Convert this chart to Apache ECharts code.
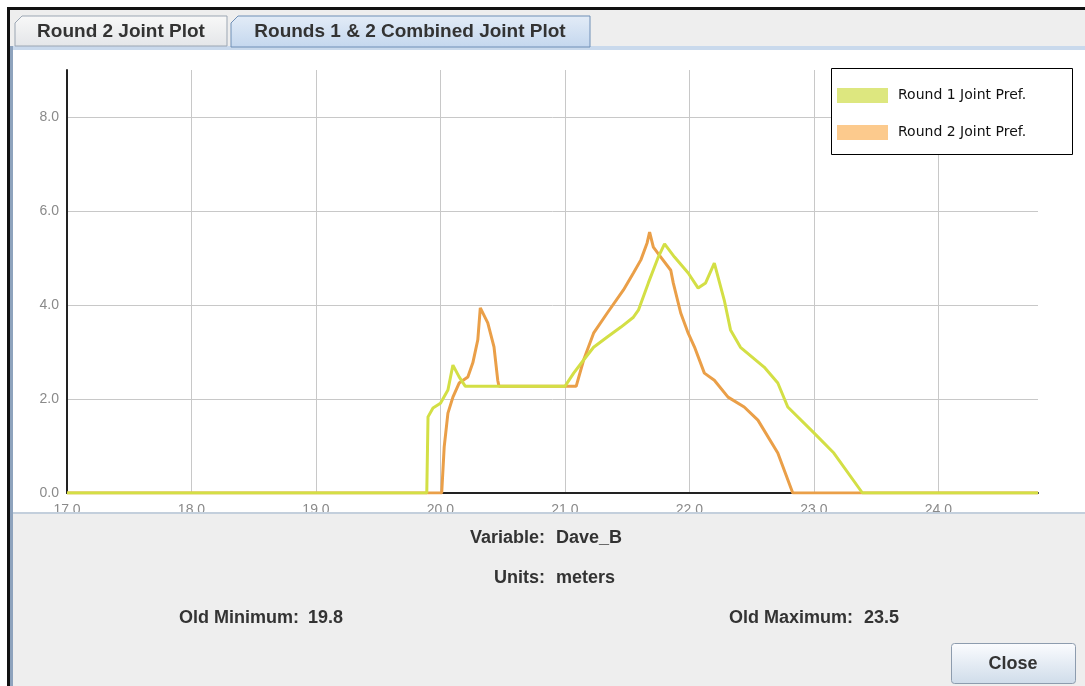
<!DOCTYPE html>
<html><head><meta charset="utf-8">
<script src="https://cdn.jsdelivr.net/npm/echarts@6/dist/echarts.min.js"></script>
<style>html,body{margin:0;padding:0;background:#fff}#c{width:1085px;height:686px}</style>
</head><body><div id="c"></div>
<script>
// ---- data ----
const seriesNames = ['Round 1 Joint Pref.', 'Round 2 Joint Pref.'];
const round1X = [17.0, 19.89, 19.90, 19.94, 20.00, 20.06, 20.10, 20.15, 20.20, 21.00, 21.07, 21.15, 21.23, 21.34, 21.45, 21.55, 21.59, 21.67, 21.75, 21.80, 21.88, 21.99, 22.07, 22.13, 22.20, 22.28, 22.33, 22.41, 22.60, 22.71, 22.79, 23.00, 23.16, 23.39, 24.8];
const round1Y = [0, 0, 1.62, 1.81, 1.91, 2.19, 2.72, 2.47, 2.27, 2.27, 2.55, 2.83, 3.10, 3.32, 3.53, 3.74, 3.89, 4.47, 5.02, 5.30, 5.02, 4.68, 4.36, 4.47, 4.89, 4.10, 3.47, 3.10, 2.68, 2.34, 1.83, 1.28, 0.85, 0, 0];
const round2X = [17.0, 20.01, 20.03, 20.06, 20.10, 20.15, 20.22, 20.26, 20.30, 20.32, 20.38, 20.43, 20.46, 20.47, 21.09, 21.15, 21.23, 21.34, 21.47, 21.55, 21.61, 21.66, 21.68, 21.71, 21.77, 21.85, 21.87, 21.93, 21.99, 22.04, 22.12, 22.20, 22.31, 22.44, 22.55, 22.71, 22.83, 24.8];
const round2Y = [0, 0, 0.98, 1.70, 2.04, 2.34, 2.47, 2.77, 3.26, 3.94, 3.62, 3.11, 2.40, 2.27, 2.27, 2.83, 3.40, 3.83, 4.32, 4.68, 4.96, 5.32, 5.55, 5.23, 5.02, 4.74, 4.47, 3.83, 3.40, 3.11, 2.55, 2.40, 2.04, 1.83, 1.55, 0.85, 0, 0];
const xTicks = [17, 18, 19, 20, 21, 22, 23, 24];
const yTicks = [0, 2, 4, 6, 8];
const tabLabels = ['Round 2 Joint Plot', 'Rounds 1 & 2 Combined Joint Plot'];
const infoLabels = ['Variable:', 'Units:', 'Old Minimum:', 'Old Maximum:'];
const infoValues = ['Dave_B', 'meters', '19.8', '23.5'];
const buttonLabel = 'Close';

const zip = (xs, ys) => xs.map((x, i) => [x, ys[i]]);

const chart = echarts.init(document.getElementById('c'), null, {renderer: 'canvas'});
const FONT = '"Liberation Sans", Arial, sans-serif';
const panelTop = 512;

const graphics = [
  // header gray
  {type: 'rect', shape: {x: 7, y: 7, width: 1078, height: 43}, style: {fill: '#eeeeee'}, z: 100, silent: true},
  // outer black border
  {type: 'rect', shape: {x: 7, y: 7, width: 1078, height: 3}, style: {fill: '#111'}, z: 101, silent: true},
  {type: 'rect', shape: {x: 7, y: 7, width: 3, height: 679}, style: {fill: '#111'}, z: 101, silent: true},
  // tab content border
  {type: 'rect', shape: {x: 10, y: 46, width: 1075, height: 4}, style: {fill: '#c9d9ec'}, z: 100, silent: true},
  {type: 'rect', shape: {x: 10, y: 46, width: 3, height: 640}, style: {fill: '#8ea3bd'}, z: 101, silent: true},
  // tab 1
  {type: 'polygon', shape: {points: [[15, 46], [15, 23], [22, 16], [227, 16], [227, 46]]},
   style: {fill: {type: 'linear', x: 0, y: 0, x2: 0, y2: 1, colorStops: [{offset: 0, color: '#f8f8f8'}, {offset: 1, color: '#e4e6e9'}]}, stroke: '#9ba6b3', lineWidth: 1}, z: 102, silent: true},
  {type: 'text', x: 121, y: 32, style: {text: tabLabels[0], font: 'bold 19px ' + FONT, fill: '#333', align: 'center', verticalAlign: 'middle'}, z: 103, silent: true},
  // tab 2 (selected)
  {type: 'polygon', shape: {points: [[231, 47], [231, 23], [238, 16], [590, 16], [590, 47]]},
   style: {fill: {type: 'linear', x: 0, y: 0, x2: 0, y2: 1, colorStops: [{offset: 0, color: '#e3ecf7'}, {offset: 1, color: '#c4d7ee'}]}, stroke: '#6f8fb6', lineWidth: 1}, z: 102, silent: true},
  {type: 'text', x: 410, y: 32, style: {text: tabLabels[1], font: 'bold 19px ' + FONT, fill: '#333', align: 'center', verticalAlign: 'middle'}, z: 103, silent: true},
  // bottom panel
  {type: 'rect', shape: {x: 13, y: panelTop, width: 1072, height: 686 - panelTop}, style: {fill: '#eeeeee'}, z: 100, silent: true},
  {type: 'rect', shape: {x: 13, y: panelTop, width: 1072, height: 2}, style: {fill: '#c3cfdc'}, z: 101, silent: true},
  // info labels
  {type: 'text', x: 545, y: 538, style: {text: infoLabels[0], font: 'bold 18px ' + FONT, fill: '#333', align: 'right', verticalAlign: 'middle'}, z: 103, silent: true},
  {type: 'text', x: 556, y: 538, style: {text: infoValues[0], font: 'bold 18px ' + FONT, fill: '#333', align: 'left', verticalAlign: 'middle'}, z: 103, silent: true},
  {type: 'text', x: 545, y: 578, style: {text: infoLabels[1], font: 'bold 18px ' + FONT, fill: '#333', align: 'right', verticalAlign: 'middle'}, z: 103, silent: true},
  {type: 'text', x: 556, y: 578, style: {text: infoValues[1], font: 'bold 18px ' + FONT, fill: '#333', align: 'left', verticalAlign: 'middle'}, z: 103, silent: true},
  {type: 'text', x: 299, y: 618, style: {text: infoLabels[2], font: 'bold 18px ' + FONT, fill: '#333', align: 'right', verticalAlign: 'middle'}, z: 103, silent: true},
  {type: 'text', x: 308, y: 618, style: {text: infoValues[2], font: 'bold 18px ' + FONT, fill: '#333', align: 'left', verticalAlign: 'middle'}, z: 103, silent: true},
  {type: 'text', x: 853, y: 618, style: {text: infoLabels[3], font: 'bold 18px ' + FONT, fill: '#333', align: 'right', verticalAlign: 'middle'}, z: 103, silent: true},
  {type: 'text', x: 864, y: 618, style: {text: infoValues[3], font: 'bold 18px ' + FONT, fill: '#333', align: 'left', verticalAlign: 'middle'}, z: 103, silent: true},
  // close button
  {type: 'rect', shape: {x: 951.5, y: 643.5, width: 124, height: 40, r: 3},
   style: {fill: {type: 'linear', x: 0, y: 0, x2: 0, y2: 1, colorStops: [{offset: 0, color: '#fbfcfe'}, {offset: 1, color: '#cfdcea'}]}, stroke: '#8d9cae', lineWidth: 1}, z: 102, silent: true},
  {type: 'text', x: 1013, y: 664, style: {text: buttonLabel, font: 'bold 18px ' + FONT, fill: '#333', align: 'center', verticalAlign: 'middle'}, z: 103, silent: true},
  // legend box
  {type: 'rect', shape: {x: 831.5, y: 68.5, width: 241, height: 86}, style: {fill: '#fff', stroke: '#000', lineWidth: 1}, z: 50, silent: true}
];

chart.setOption({
  backgroundColor: '#ffffff',
  animation: false,
  grid: {left: 67, top: 70, right: 47, bottom: 193, containLabel: false},
  legend: {
    data: [
      {name: seriesNames[0], itemStyle: {color: '#dde77f'}},
      {name: seriesNames[1], itemStyle: {color: '#fcca8d'}}
    ],
    orient: 'vertical', left: 832, top: 83, padding: 5, itemWidth: 51, itemHeight: 15, itemGap: 22,
    icon: 'rect', z: 60, selectedMode: false,
    textStyle: {fontFamily: '"DejaVu Sans", sans-serif', fontSize: 14, color: '#111', padding: [0, 0, 0, 5]}
  },
  xAxis: {
    type: 'value', min: 17, max: 24.8, interval: 1,
    axisLine: {show: true, onZero: false, lineStyle: {color: '#222', width: 2}},
    axisTick: {show: false},
    axisLabel: {show: true, color: '#8a8a8a', fontSize: 14, fontFamily: FONT, margin: 10, showMaxLabel: false,
      formatter: v => xTicks.includes(v) ? v.toFixed(1) : ''},
    splitLine: {show: true, showMaxLine: false, lineStyle: {color: '#c8c8c8', width: 1}}
  },
  yAxis: {
    type: 'value', min: 0, max: 9, interval: 2,
    axisLine: {show: true, onZero: false, lineStyle: {color: '#222', width: 2}},
    axisTick: {show: false},
    axisLabel: {show: true, color: '#8a8a8a', fontSize: 14, fontFamily: FONT, margin: 8, showMaxLabel: false,
      formatter: v => yTicks.includes(v) ? v.toFixed(1) : ''},
    splitLine: {show: true, showMaxLine: false, lineStyle: {color: '#c8c8c8', width: 1}}
  },
  series: [
    {name: seriesNames[0], type: 'line', data: zip(round1X, round1Y), showSymbol: false, symbol: 'none', z: 4,
     lineStyle: {color: '#d3df45', width: 3}, itemStyle: {color: '#dde77f'}},
    {name: seriesNames[1], type: 'line', data: zip(round2X, round2Y), showSymbol: false, symbol: 'none', z: 3,
     lineStyle: {color: '#ea9f48', width: 3}, itemStyle: {color: '#fcca8d'}}
  ],
  graphic: {elements: graphics}
});
</script></body></html>
